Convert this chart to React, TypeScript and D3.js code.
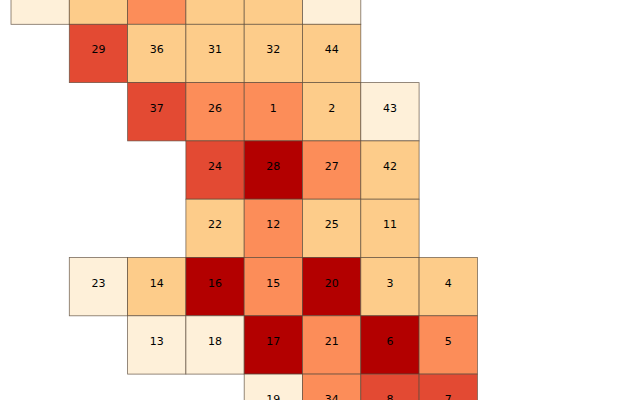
import * as d3 from 'd3';
import React from 'react';

// tile grid: label, column, row, colour class (0 = lightest .. 4 = darkest)
// the top row's labels sit above the visible area, so they are left blank
const labels = [
  '', '', '', '', '', '',
  '29', '36', '31', '32', '44',
  '37', '26', '1', '2', '43',
  '24', '28', '27', '42',
  '22', '12', '25', '11',
  '23', '14', '16', '15', '20', '3', '4',
  '13', '18', '17', '21', '6', '5',
  '19', '34', '8', '7',
];
const cols = [
  0, 1, 2, 3, 4, 5,
  1, 2, 3, 4, 5,
  2, 3, 4, 5, 6,
  3, 4, 5, 6,
  3, 4, 5, 6,
  1, 2, 3, 4, 5, 6, 7,
  2, 3, 4, 5, 6, 7,
  4, 5, 6, 7,
];
const rows = [
  0, 0, 0, 0, 0, 0,
  1, 1, 1, 1, 1,
  2, 2, 2, 2, 2,
  3, 3, 3, 3,
  4, 4, 4, 4,
  5, 5, 5, 5, 5, 5, 5,
  6, 6, 6, 6, 6, 6,
  7, 7, 7, 7,
];
const classes = [
  0, 1, 2, 1, 1, 0,
  3, 1, 1, 1, 1,
  3, 2, 2, 1, 0,
  3, 4, 2, 1,
  1, 2, 1, 1,
  0, 1, 4, 2, 4, 1, 1,
  0, 0, 4, 2, 4, 2,
  0, 2, 3, 3,
];

const colCount = 8;
const rowCount = 8;

const App: React.FC = () => {
  const width = 640;
  const height = 400;
  const cell = 58.3;
  const x0 = 11;
  const y0 = -34;

  const xScale = d3
    .scaleBand<number>()
    .domain(d3.range(colCount))
    .range([x0, x0 + cell * colCount]);
  const yScale = d3
    .scaleBand<number>()
    .domain(d3.range(rowCount))
    .range([y0, y0 + cell * rowCount]);
  const color = d3
    .scaleOrdinal<number, string>()
    .domain([0, 1, 2, 3, 4])
    .range(d3.schemeOrRd[5]);

  const tiles = labels.map((label, i) => ({
    label,
    col: cols[i],
    row: rows[i],
    cls: classes[i],
  }));

  return (
    <svg
      width={width}
      height={height}
      style={{ position: 'absolute', left: 0, top: 0, background: '#fff' }}
    >
      {tiles.map((t, i) => (
        <rect
          key={`r-${i}`}
          x={xScale(t.col)}
          y={yScale(t.row)}
          width={xScale.bandwidth()}
          height={yScale.bandwidth()}
          fill={color(t.cls)}
          stroke="#5a4a3a"
          strokeOpacity={0.8}
          strokeWidth={0.8}
        />
      ))}
      {tiles
        .filter((t) => t.label !== '')
        .map((t) => (
          <text
            key={`t-${t.label}`}
            x={(xScale(t.col) ?? 0) + xScale.bandwidth() / 2}
            y={(yScale(t.row) ?? 0) + yScale.bandwidth() / 2}
            textAnchor="middle"
            fontFamily="DejaVu Sans"
            fontSize={11}
            fill="#000"
          >
            {t.label}
          </text>
        ))}
    </svg>
  );
};

export default App;
